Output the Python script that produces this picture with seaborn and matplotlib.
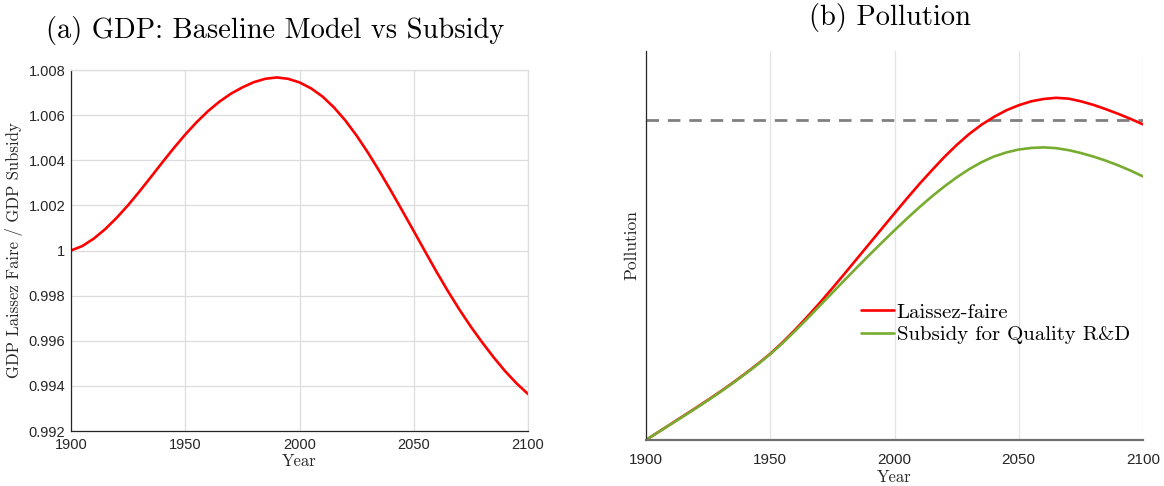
import numpy as np
import pandas as pd
import matplotlib
matplotlib.use("Agg")
import matplotlib.pyplot as plt
import seaborn as sns

# ---------------- data ----------------
years = [1900, 1905, 1910, 1915, 1920, 1925, 1930, 1935, 1940, 1945, 1950,
         1955, 1960, 1965, 1970, 1975, 1980, 1985, 1990, 1995, 2000,
         2005, 2010, 2015, 2020, 2025, 2030, 2035, 2040, 2045, 2050,
         2055, 2060, 2065, 2070, 2075, 2080, 2085, 2090, 2095, 2100]

gdp_ratio = [1.00000, 1.00020, 1.00053, 1.00095, 1.00145, 1.00201, 1.00262, 1.00326, 1.00391, 1.00454, 1.00514,
             1.00569, 1.00618, 1.00660, 1.00695, 1.00723, 1.00746, 1.00761, 1.00767, 1.00761, 1.00745,
             1.00719, 1.00683, 1.00635, 1.00577, 1.00509, 1.00433, 1.00351, 1.00265, 1.00176, 1.00086,
             0.99995, 0.99905, 0.99819, 0.99738, 0.99662, 0.99592, 0.99526, 0.99465, 0.99411, 0.99364]

pollution_laissez = [0.0000, 0.0205, 0.0410, 0.0615, 0.0820, 0.1030, 0.1245, 0.1470, 0.1705, 0.1950, 0.2210,
                     0.2505, 0.2825, 0.3165, 0.3520, 0.3890, 0.4270, 0.4655, 0.5040, 0.5425, 0.5810,
                     0.6190, 0.6560, 0.6910, 0.7250, 0.7560, 0.7840, 0.8080, 0.8280, 0.8450, 0.8580,
                     0.8680, 0.8740, 0.8770, 0.8750, 0.8680, 0.8590, 0.8480, 0.8360, 0.8230, 0.8090]

pollution_subsidy = [0.0000, 0.0205, 0.0405, 0.0605, 0.0810, 0.1020, 0.1235, 0.1460, 0.1695, 0.1940, 0.2200,
                     0.2485, 0.2795, 0.3115, 0.3445, 0.3775, 0.4105, 0.4430, 0.4750, 0.5065, 0.5375,
                     0.5675, 0.5965, 0.6240, 0.6495, 0.6730, 0.6940, 0.7120, 0.7265, 0.7370, 0.7445,
                     0.7485, 0.7500, 0.7480, 0.7430, 0.7355, 0.7265, 0.7160, 0.7040, 0.6905, 0.6755]

pollution_threshold = 0.820

x_ticks = [1900, 1950, 2000, 2050, 2100]
x_tick_labels = ["1900", "1950", "2000", "2050", "2100"]
gdp_ticks = [0.992, 0.994, 0.996, 0.998, 1.000, 1.002, 1.004, 1.006, 1.008]
gdp_tick_labels = ["0.992", "0.994", "0.996", "0.998", "1", "1.002", "1.004", "1.006", "1.008"]

series_names = ["Laissez-faire", "Subsidy for Quality R&D"]
title_a = "(a) GDP: Baseline Model vs Subsidy"
title_b = "(b) Pollution"

# ---------------- style ----------------
sns.set_style("white")
plt.rcParams["font.family"] = ["Liberation Sans", "DejaVu Sans"]
SERIF = ["cmr10", "DejaVu Serif"]
RED = "#FF0000"
GREEN = "#77AC30"
TXT = "#262626"

fig = plt.figure(figsize=(11.64, 4.86), dpi=100)

# ---------------- panel (a) ----------------
ax1 = fig.add_axes([71 / 1164, 1 - 431 / 486, 457 / 1164, 361 / 486])
df_a = pd.DataFrame({"Year": years, "Ratio": gdp_ratio})
sns.lineplot(data=df_a, x="Year", y="Ratio", ax=ax1, color=RED, linewidth=1.9)
ax1.set_xlim(1900, 2100)
ax1.set_ylim(0.992, 1.008)
ax1.set_xticks(x_ticks)
ax1.set_xticklabels(x_tick_labels)
ax1.set_yticks(gdp_ticks)
ax1.set_yticklabels(gdp_tick_labels)
ax1.grid(True, color="#DCDCDC", linewidth=0.9)
ax1.tick_params(axis="both", direction="in", length=3, width=0.8, colors=TXT,
                labelsize=10.5)
ax1.tick_params(axis="x", pad=5)
ax1.tick_params(axis="y", pad=4)
for s in ["left", "bottom"]:
    ax1.spines[s].set_color(TXT)
    ax1.spines[s].set_linewidth(0.9)
for s in ["top", "right"]:
    ax1.spines[s].set_color("#DCDCDC")
    ax1.spines[s].set_linewidth(0.9)
ax1.set_xlabel("Year", family=SERIF, fontsize=12, color=TXT, labelpad=1)
ax1.set_ylabel("GDP Laissez Faire / GDP Subsidy", family=SERIF, fontsize=12,
               color=TXT, labelpad=4)
t1 = ax1.set_title(title_a, family=SERIF, fontsize=20.5, color="black", pad=23)
t1.set_x((275 - 71) / 457)

# ---------------- panel (b) ----------------
ax2 = fig.add_axes([646 / 1164, 1 - 440 / 486, 497 / 1164, 389 / 486])
df_b = pd.DataFrame({
    "Year": years * 2,
    "Pollution": pollution_laissez + pollution_subsidy,
    "Policy": [series_names[0]] * len(years) + [series_names[1]] * len(years),
})
sns.lineplot(data=df_b, x="Year", y="Pollution", hue="Policy", ax=ax2,
             palette={series_names[0]: RED, series_names[1]: GREEN},
             linewidth=1.9)
ax2.axhline(pollution_threshold, color="#808080", linewidth=2.0,
            linestyle=(0, (4.5, 3.2)), zorder=1)
ax2.set_xlim(1900, 2100)
ax2.set_ylim(0, 0.997)
ax2.set_xticks(x_ticks)
ax2.set_xticklabels(x_tick_labels)
ax2.set_yticks([])
ax2.grid(True, axis="x", color="#E3E3E3", linewidth=0.9)
ax2.grid(False, axis="y")
ax2.tick_params(axis="x", direction="in", length=4, width=1.0, colors="#555555",
                labelcolor=TXT, labelsize=11, pad=9)
ax2.spines["top"].set_visible(False)
ax2.spines["right"].set_visible(False)
ax2.spines["left"].set_color(TXT)
ax2.spines["left"].set_linewidth(0.9)
ax2.spines["bottom"].set_color("#707070")
ax2.spines["bottom"].set_linewidth(1.6)
ax2.set_xlabel("Year", family=SERIF, fontsize=12, color=TXT, labelpad=2)
ax2.set_ylabel("Pollution", family=SERIF, fontsize=12.5, color=TXT, labelpad=5)
t2 = ax2.set_title(title_b, family=SERIF, fontsize=20.5, color="black", pad=19)
t2.set_x((890 - 646) / 497)

leg = ax2.legend(loc="upper left", bbox_to_anchor=(861 / 1164, 1 - 303 / 486),
                 bbox_transform=fig.transFigure, frameon=False,
                 prop={"family": SERIF, "size": 15}, handlelength=1.6,
                 handletextpad=0.12, borderpad=0, borderaxespad=0,
                 labelspacing=0.2)
for t in leg.get_texts():
    t.set_color("black")

fig.savefig("out.png", dpi=100)
